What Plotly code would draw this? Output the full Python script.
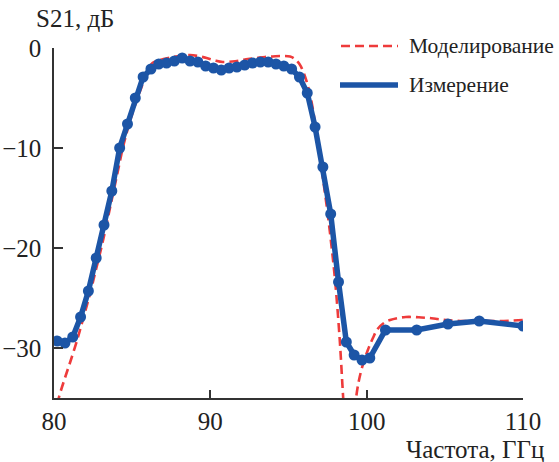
import plotly.graph_objects as go

# Measured S21 (blue, with markers)
meas_f = [80.2, 80.7, 81.2, 81.7, 82.2, 82.7, 83.2, 83.7, 84.2, 84.7,
          85.2, 85.7, 86.2, 86.7, 87.2, 87.7, 88.2, 88.7, 89.2, 89.7,
          90.2, 90.7, 91.2, 91.7, 92.2, 92.7, 93.2, 93.7, 94.2, 94.7,
          95.2, 95.7, 96.2, 96.7, 97.2, 97.7, 98.2, 98.7, 99.2, 99.7,
          100.2, 101.2, 103.2, 105.2, 107.2, 110.0]
meas_s21 = [-29.3, -29.5, -28.9, -26.9, -24.3, -21.0, -17.7, -14.3, -10.0, -7.6,
            -5.0, -2.9, -2.1, -1.6, -1.5, -1.3, -1.0, -1.3, -1.4, -1.8,
            -2.0, -2.2, -2.0, -1.9, -1.7, -1.5, -1.4, -1.4, -1.6, -1.8,
            -2.1, -2.9, -4.5, -7.9, -11.9, -16.6, -23.4, -29.4, -30.7, -31.2,
            -31.0, -28.2, -28.2, -27.6, -27.3, -27.8]

# Simulated S21 (red dashed)
sim_f = [80.0, 80.34, 80.7, 81.1, 81.5, 81.7, 82.0, 82.3, 82.6, 82.9,
         83.2, 83.5, 83.8, 84.1, 84.4, 84.7, 85.0, 85.3, 85.6, 85.9,
         86.3, 86.6, 87.0, 87.6, 88.2, 88.7, 89.2, 89.76, 90.3, 90.8,
         91.4, 91.9, 92.4, 92.95, 93.5, 94.0, 94.5, 95.1, 95.4, 95.7,
         95.95, 96.15, 96.4, 96.7, 97.0, 97.2, 97.5, 97.8, 98.0, 98.27,
         98.49, 98.7, 98.9, 99.1, 99.34, 99.66, 100.1, 100.4, 100.7, 101.1,
         101.5, 102.0, 102.5, 103.0, 103.5, 104.0, 104.5, 105.1, 106.0, 107.2,
         108.5, 110.0]
sim_s21 = [-37.0, -34.8, -33.0, -31.1, -29.1, -28.0, -26.3, -24.6, -22.7, -20.8,
           -18.8, -16.6, -14.4, -12.2, -10.0, -8.2, -6.6, -5.2, -3.9, -2.6,
           -1.5, -1.3, -1.1, -0.9, -0.75, -0.7, -0.8, -1.0, -1.25, -1.4,
           -1.35, -1.25, -1.1, -1.0, -0.9, -0.85, -0.8, -0.85, -1.1, -1.6,
           -2.4, -3.3, -4.8, -7.5, -10.7, -13.0, -16.5, -20.5, -23.6, -29.0,
           -34.8, -40.0, -50.0, -40.0, -34.8, -32.2, -30.1, -29.0, -28.1, -27.5,
           -27.2, -27.0, -26.9, -26.9, -26.95, -27.0, -27.1, -27.2, -27.3, -27.3,
           -27.3, -27.2]

x_ticks = [80, 90, 100, 110]
y_ticks = [0, -10, -20, -30]

BLUE = "#1c55a6"
RED = "#ee3b3b"
AX = "#333333"
FONT = "Liberation Serif"
TXT = "#222222"

W, H = 559, 462
L, R, T, B = 54, 36, 48, 64
pw, ph = W - L - R, H - T - B

def px(xp):
    return (xp - L) / pw

def py(yp):
    return (H - B - yp) / ph

fig = go.Figure()
fig.add_trace(go.Scatter(x=sim_f, y=sim_s21, mode="lines", line=dict(color=RED, width=2.6, dash="9px,5px"),
                         line_shape="spline", name="Моделирование", showlegend=False))
fig.add_trace(go.Scatter(x=meas_f, y=meas_s21, mode="lines+markers", line=dict(color=BLUE, width=5.5),
                         marker=dict(color=BLUE, size=11), name="Измерение", showlegend=False))

fig.update_layout(
    width=W, height=H,
    margin=dict(l=L, r=R, t=T, b=B, autoexpand=False),
    paper_bgcolor="white", plot_bgcolor="white",
    font=dict(family=FONT, size=23, color=TXT),
    xaxis=dict(range=[80, 110], tickvals=x_ticks, ticks="inside", ticklen=8, tickwidth=1.5, tickcolor=AX,
               showline=True, linecolor=AX, linewidth=1.5, showgrid=False, zeroline=False, automargin=False,
               tickfont=dict(family=FONT, size=25, color=TXT)),
    yaxis=dict(range=[-35, 0], tickvals=y_ticks, ticks="inside", ticklen=9, tickwidth=1.5, tickcolor=AX,
               showline=True, linecolor=AX, linewidth=1.5, showgrid=False, zeroline=False, automargin=False,
               tickfont=dict(family=FONT, size=25, color=TXT), ticklabelstandoff=6),
    shapes=[
        dict(type="line", xref="paper", yref="paper", x0=px(341), x1=px(398), y0=py(46), y1=py(46),
             line=dict(color=RED, width=2.6, dash="9px,5px")),
        dict(type="line", xref="paper", yref="paper", x0=px(340), x1=px(398), y0=py(85), y1=py(85),
             line=dict(color=BLUE, width=5.5)),
    ],
    annotations=[
        dict(text="Моделирование", xref="paper", yref="paper", x=px(407), y=py(46), xanchor="left",
             yanchor="middle", showarrow=False, font=dict(family=FONT, size=21.5, color=TXT)),
        dict(text="Измерение", xref="paper", yref="paper", x=px(407), y=py(85), xanchor="left",
             yanchor="middle", showarrow=False, font=dict(family=FONT, size=21.5, color=TXT)),
        dict(text="S21, дБ", xref="paper", yref="paper", x=px(34), y=py(18), xanchor="left",
             yanchor="middle", showarrow=False, font=dict(family=FONT, size=25, color=TXT)),
        dict(text="Частота, ГГц", xref="paper", yref="paper", x=px(546), y=py(449), xanchor="right",
             yanchor="middle", showarrow=False, font=dict(family=FONT, size=25, color=TXT)),
    ],
)

fig.write_html("out.html")
